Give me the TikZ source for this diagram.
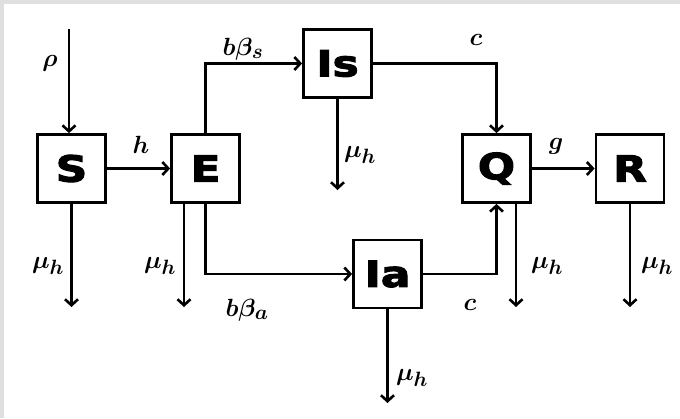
\documentclass[tikz,border=0pt]{standalone}
\usepackage{fontspec}
\usepackage{amsmath}
\usepackage{bm}
\usetikzlibrary{arrows.meta}
\newfontfamily\boxfont[FakeStretch=1.22,FakeBold=3]{DejaVu Sans}
\tikzset{
  compbox/.style={draw, line width=2.8pt, minimum size=68pt, inner sep=0pt, font=\boxfont\bfseries\fontsize{36}{40}\selectfont},
  flow/.style={line width=2.6pt, -{Straight Barb[length=6pt,width=13pt,line width=2.6pt]}},
  rate/.style={inner sep=0pt, font=\fontsize{31}{34}\selectfont}
}
\begin{document}
\begin{tikzpicture}[x=1pt,y=-1pt]
\useasboundingbox (0,0) rectangle (680,418);
\fill[gray!25] (0,0) rectangle (680,4);
\fill[gray!25] (0,0) rectangle (4,418);
% boxes
\node[compbox] (S)  at (71.5,168.5) {S};
\node[compbox] (E)  at (205.5,168.5) {E};
\node[compbox] (Is) at (337.5,63.5) {Is};
\node[compbox] (Q)  at (496.5,168.5) {Q};
\node[compbox] (R)  at (630,168.5) {R};
\node[compbox] (Ia) at (387.5,274) {Ia};
% free ends
\coordinate (rhoS) at (69,29);
\coordinate (sD) at (71.5,307);
\coordinate (eD) at (184,307);
\coordinate (isD) at (337.5,190);
\coordinate (qD) at (516,307);
\coordinate (rD) at (630,307);
\coordinate (iaD) at (387.5,403);
% connectors
\draw[flow] (rhoS) -- (rhoS |- S.north);
\draw[flow] (S) -- (E);
\draw[flow] (E.north) |- (Is.west);
\draw[flow] (E.south) |- (Ia.west);
\draw[flow] (Is.east) -| (Q.north);
\draw[flow] (Ia.east) -| (Q.south);
\draw[flow] (Q) -- (R);
\draw[flow] (S.south) -- (sD);
\draw[flow] (eD |- E.south) -- (eD);
\draw[flow] (Is.south) -- (isD);
\draw[flow] (qD |- Q.south) -- (qD);
\draw[flow] (R.south) -- (rD);
\draw[flow] (Ia.south) -- (iaD);
% labels
\node[rate] (lrho) at (50,63) {$\bm{\rho}$};
\node[rate] (lh) at (141,145) {$\bm{h}$};
\node[rate] (lbs) at (243,49) {$\bm{b\beta_s}$};
\node[rate] (lc1) at (476,40) {$\bm{c}$};
\node[rate] (lg) at (556,146) {$\bm{g}$};
\node[rate] (lmIs) at (360,155) {$\bm{\mu_h}$};
\node[rate] (lmS) at (48,266) {$\bm{\mu_h}$};
\node[rate] (lmE) at (160,266) {$\bm{\mu_h}$};
\node[rate] (lba) at (247,310) {$\bm{b\beta_a}$};
\node[rate] (lc2) at (470,305) {$\bm{c}$};
\node[rate] (lmQ) at (547,266) {$\bm{\mu_h}$};
\node[rate] (lmR) at (657,266) {$\bm{\mu_h}$};
\node[rate] (lmIa) at (412,378) {$\bm{\mu_h}$};
\end{tikzpicture}
\end{document}
